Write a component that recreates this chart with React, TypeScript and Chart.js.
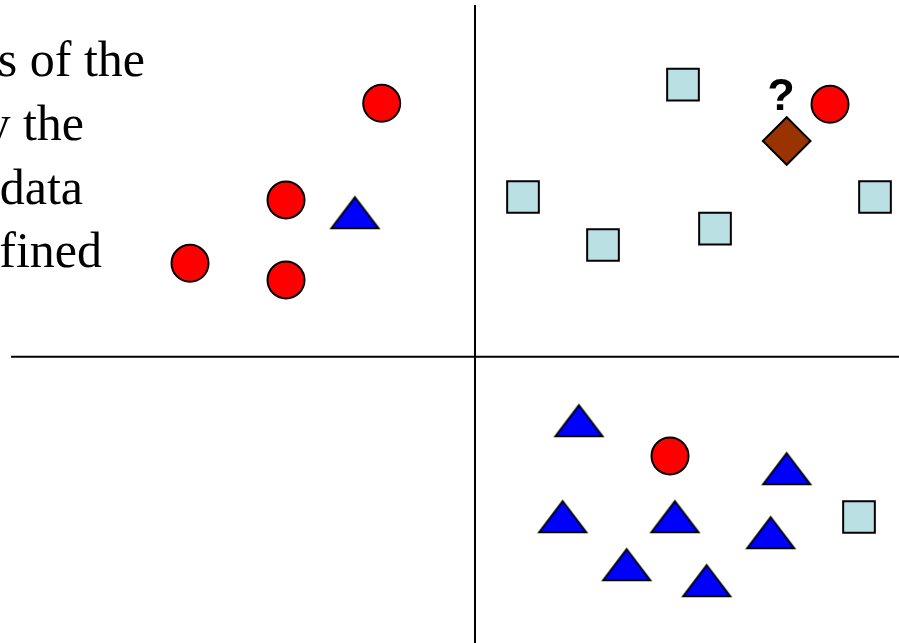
import React, { useEffect, useRef } from "react";
import { Chart, registerables } from "chart.js";
Chart.register(...registerables);

// Partial slide text visible on the left (clipped by the frame)
const textLines = ["s of the", "y the", "data", "fined"];
const textRightX = [145, 84, 83, 102];
const textBaselineY = [76, 139.5, 203.5, 267];

// Class "circle" (red)
const circleX = [381.7, 286, 190, 286, 830, 670];
const circleY = [103.3, 200, 263.3, 280, 104.3, 456];
// Class "triangle" (blue)
const triangleX = [355, 579, 786.7, 562.7, 675, 770.7, 626.7, 706.7];
const triangleY = [212.7, 420.7, 468.7, 516.7, 516.7, 532.7, 564.7, 580.7];
// Class "square" (light cyan)
const squareX = [683, 523, 603, 715, 875, 859];
const squareY = [84.7, 197, 245, 228.7, 197, 517];
// Unknown sample (brown diamond) with "?"
const unknownX = [786.7];
const unknownY = [141];
const unknownLabel = "?";

// Dividing lines
const vLineX = [475, 475];
const vLineY = [5, 643];
const hLineX = [11, 899];
const hLineY = [356.7, 356.7];

const X_MAX = 899;
const Y_MAX = 643;

function zip(xs: number[], ys: number[]) {
  return xs.map((x, i) => ({ x, y: ys[i] }));
}

function makeTriangle(w: number, h: number, fill: string): HTMLCanvasElement {
  const c = document.createElement("canvas");
  c.width = w + 6;
  c.height = h + 8;
  const ctx = c.getContext("2d")!;
  const ox = 3;
  const oy = 4;
  ctx.beginPath();
  ctx.moveTo(ox + w / 2, oy);
  ctx.lineTo(ox + w, oy + h);
  ctx.lineTo(ox, oy + h);
  ctx.closePath();
  ctx.fillStyle = fill;
  ctx.fill();
  ctx.lineWidth = 2;
  ctx.strokeStyle = "#000000";
  ctx.lineJoin = "miter";
  ctx.stroke();
  return c;
}

const textPlugin = {
  id: "slideText",
  afterDraw(chart: any) {
    const ctx = chart.ctx as CanvasRenderingContext2D;
    const xs = chart.scales.x;
    const ys = chart.scales.y;
    ctx.save();
    ctx.fillStyle = "#000000";
    ctx.font = "50px 'Liberation Serif', 'Times New Roman', serif";
    ctx.textAlign = "right";
    ctx.textBaseline = "alphabetic";
    textLines.forEach((t, i) => {
      ctx.fillText(t, xs.getPixelForValue(textRightX[i]), ys.getPixelForValue(textBaselineY[i]));
    });
    ctx.font = "bold 45px 'Liberation Sans', Arial, sans-serif";
    ctx.textAlign = "center";
    ctx.fillText(unknownLabel, xs.getPixelForValue(781), ys.getPixelForValue(110));
    ctx.restore();
  },
};

export default function App() {
  const ref = useRef<HTMLCanvasElement | null>(null);

  useEffect(() => {
    document.body.style.margin = "0";
    document.body.style.overflow = "hidden";
    const canvas = ref.current!;
    const tri = makeTriangle(47, 31, "#0000FF");
    const chart = new Chart(canvas, {
      type: "scatter",
      data: {
        datasets: [
          {
            label: "circle",
            data: zip(circleX, circleY),
            pointStyle: "circle",
            pointRadius: 18.5,
            pointHoverRadius: 18.5,
            backgroundColor: "#FF0000",
            borderColor: "#000000",
            borderWidth: 2,
            order: 1,
          },
          {
            label: "triangle",
            data: zip(triangleX, triangleY),
            pointStyle: tri as any,
            pointRadius: 20,
            order: 1,
          },
          {
            label: "square",
            data: zip(squareX, squareY),
            pointStyle: "rect",
            pointRadius: 22.4,
            pointHoverRadius: 22.4,
            backgroundColor: "#BBE0E3",
            borderColor: "#000000",
            borderWidth: 2,
            order: 1,
          },
          {
            label: "unknown",
            data: zip(unknownX, unknownY),
            pointStyle: "rectRot",
            pointRadius: 23.8,
            pointHoverRadius: 23.8,
            backgroundColor: "#993300",
            borderColor: "#000000",
            borderWidth: 2,
            order: 1,
          },
          {
            label: "vline",
            data: zip(vLineX, vLineY),
            showLine: true,
            pointRadius: 0,
            borderColor: "#000000",
            borderWidth: 2,
            order: 10,
          },
          {
            label: "hline",
            data: zip(hLineX, hLineY),
            showLine: true,
            pointRadius: 0,
            borderColor: "#000000",
            borderWidth: 2,
            order: 10,
          },
        ],
      },
      options: {
        animation: false,
        responsive: false,
        maintainAspectRatio: false,
        layout: { padding: 0, autoPadding: false },
        plugins: {
          legend: { display: false },
          tooltip: { enabled: false },
          title: { display: false },
        },
        events: [],
        scales: {
          x: { type: "linear", min: 0, max: X_MAX, display: false },
          y: { type: "linear", min: 0, max: Y_MAX, reverse: true, display: false },
        },
      },
      plugins: [textPlugin],
    });
    return () => chart.destroy();
  }, []);

  return (
    <div style={{ width: 899, height: 643, background: "#ffffff" }}>
      <canvas ref={ref} width={899} height={643} />
    </div>
  );
}
